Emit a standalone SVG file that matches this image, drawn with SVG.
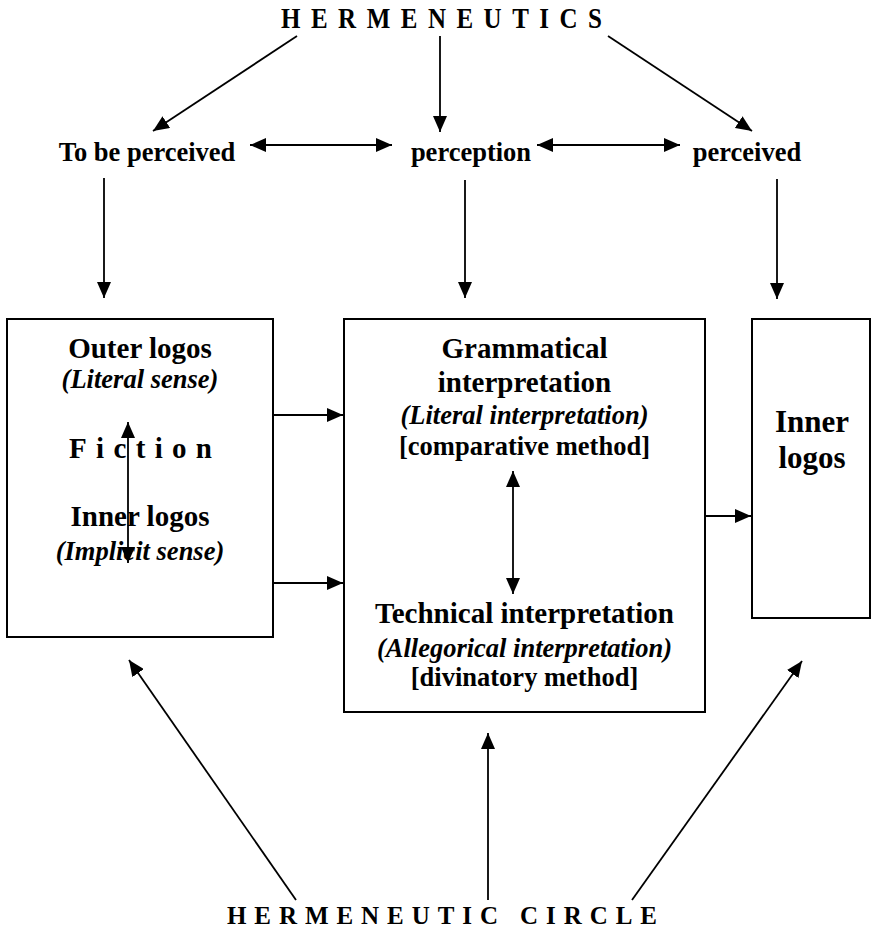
<svg xmlns="http://www.w3.org/2000/svg" width="873" height="930" viewBox="0 0 873 930">
<style>
text{font-family:"Liberation Serif","Times New Roman",serif;font-weight:bold;fill:#000;text-anchor:middle}
.it{font-style:italic}
.box{fill:#fff;stroke:#000;stroke-width:2}
.c{stroke:#000;stroke-width:1.8;fill:none;marker-end:url(#ah)}
.d{marker-start:url(#ah)}
</style>
<defs>
<marker id="ah" viewBox="0 0 16 14" refX="16" refY="7" markerWidth="16" markerHeight="14" markerUnits="userSpaceOnUse" orient="auto-start-reverse">
<path d="M0,0 L16,7 L0,14 z" fill="#000"/>
</marker>
</defs>
<rect width="873" height="930" fill="#fff"/>

<g id="hermeneutics">
<text transform="translate(281,28) scale(1,1.2)" x="0" y="0" font-size="25" textLength="321" lengthAdjust="spacing" style="text-anchor:start">HERMENEUTICS</text>
</g>
<g id="to-be-perceived">
<text x="147" y="161" font-size="26.5">To be perceived</text>
</g>
<g id="perception">
<text x="471" y="161" font-size="26.5">perception</text>
</g>
<g id="perceived">
<text x="747" y="161" font-size="26.5">perceived</text>
</g>

<g id="outer-box">
<rect class="box" x="7" y="319" width="266" height="318"/>
<text x="140" y="358" font-size="29">Outer logos</text>
<text class="it" x="140" y="388" font-size="26.5">(Literal sense)</text>
<text x="69" y="458" font-size="29" textLength="143" lengthAdjust="spacing" style="text-anchor:start">Fiction</text>
<text x="140" y="526" font-size="29">Inner logos</text>
<text class="it" x="140" y="560" font-size="26.5">(Implicit sense)</text>
</g>

<g id="interpretation-box">
<rect class="box" x="344" y="319" width="361" height="393"/>
<text x="524.5" y="358" font-size="29">Grammatical</text>
<text x="524.5" y="392" font-size="29">interpretation</text>
<text class="it" x="524.5" y="424" font-size="26.5">(Literal interpretation)</text>
<text x="524.5" y="455" font-size="26.5">[comparative method]</text>
<text x="524.5" y="623" font-size="29">Technical interpretation</text>
<text class="it" x="524.5" y="657" font-size="26.5">(Allegorical interpretation)</text>
<text x="524.5" y="686" font-size="26.5">[divinatory method]</text>
</g>

<g id="inner-box">
<rect class="box" x="752" y="319" width="118" height="299"/>
<text x="812" y="432" font-size="31">Inner</text>
<text x="812" y="468" font-size="31">logos</text>
</g>

<g id="hermeneutic-circle">
<text x="227" y="924" font-size="25" textLength="430" lengthAdjust="spacing" style="text-anchor:start">HERMENEUTIC CIRCLE</text>
</g>

<g id="connectors">
<line class="c" x1="297" y1="36" x2="153" y2="131"/>
<line class="c" x1="440" y1="36" x2="440" y2="132"/>
<line class="c" x1="608" y1="36" x2="752" y2="131"/>
<line class="c d" x1="250" y1="145" x2="392" y2="145"/>
<line class="c d" x1="537" y1="145" x2="680" y2="145"/>
<line class="c" x1="104" y1="178" x2="104" y2="298"/>
<line class="c" x1="465" y1="180" x2="465" y2="298"/>
<line class="c" x1="777" y1="179" x2="777" y2="299"/>
<line class="c d" x1="128" y1="422" x2="128" y2="563"/>
<line class="c" x1="273" y1="415" x2="343" y2="415"/>
<line class="c" x1="273" y1="583" x2="343" y2="583"/>
<line class="c d" x1="513" y1="471" x2="513" y2="594"/>
<line class="c" x1="705" y1="516" x2="751" y2="516"/>
<line class="c" x1="296" y1="900" x2="129" y2="660"/>
<line class="c" x1="488" y1="900" x2="488" y2="733"/>
<line class="c" x1="632" y1="900" x2="802" y2="661"/>
</g>
</svg>
